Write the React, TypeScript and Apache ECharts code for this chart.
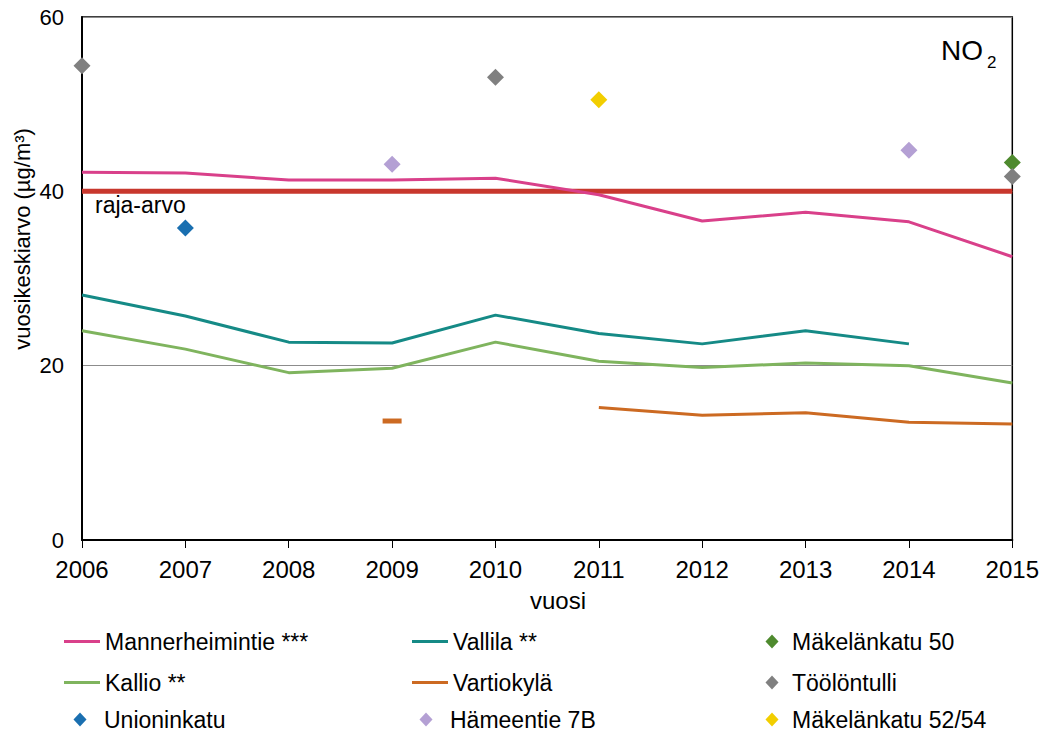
import React, { useEffect, useRef } from "react";
import * as echarts from "echarts";

const years = ["2006", "2007", "2008", "2009", "2010", "2011", "2012", "2013", "2014", "2015"];
const yTicks = [0, 20, 40, 60];

const limitValue = [40, 40, 40, 40, 40, 40, 40, 40, 40, 40];
const mannerheimintie = [42.2, 42.1, 41.3, 41.3, 41.5, 39.6, 36.6, 37.6, 36.5, 32.5];
const vallila = [28.1, 25.7, 22.7, 22.6, 25.8, 23.7, 22.5, 24.0, 22.5, null];
const kallio = [24.0, 21.9, 19.2, 19.7, 22.7, 20.5, 19.8, 20.3, 20.0, 18.0];
const vartiokyla = [null, null, null, 13.65, null, 15.2, 14.3, 14.6, 13.5, 13.3];

const makelankatu50 = [null, null, null, null, null, null, null, null, null, 43.3];
const toolontulli = [54.4, null, null, null, 53.1, null, null, null, null, 41.7];
const unioninkatu = [null, 35.8, null, null, null, null, null, null, null, null];
const hameentie = [null, null, null, 43.1, null, null, null, null, 44.7, null];
const makelankatu5254 = [null, null, null, null, null, 50.5, null, null, null, null];

const FONT = "'Liberation Sans', Arial, sans-serif";

const C = {
  limit: "#C8372D",
  mann: "#D9408A",
  vallila: "#158A86",
  kallio: "#7FB45E",
  vartio: "#CC6A22",
  mak50: "#4E8A2E",
  toolo: "#808080",
  union: "#1A6FB0",
  hame: "#B4A0D4",
  mak5254: "#F2CE00",
};

export default function App() {
  const ref = useRef<HTMLDivElement>(null);

  useEffect(() => {
    document.body.style.margin = "0";
    const chart = echarts.init(ref.current!, null, { renderer: "svg" });

    const lineSeries = (name: string, data: any[], color: string, width = 3) => ({
      name,
      type: "line",
      data,
      symbol: "none",
      showSymbol: true,
      showAllSymbol: true,
      connectNulls: false,
      lineStyle: { color, width },
      itemStyle: { color },
      z: 3,
    });

    const scatterSeries = (name: string, data: (number | null)[], color: string) => ({
      name,
      type: "scatter",
      data,
      symbol: "diamond",
      symbolSize: 17,
      itemStyle: { color, opacity: 1 },
      z: 5,
    });

    const LEG_FS = 23;
    const lineLegend = (name: string, left: number, top: number) => ({
      data: [name],
      left,
      top,
      padding: 0,
      selectedMode: false,
      itemWidth: 36,
      itemHeight: 3,
      icon: "rect",
      textStyle: { fontFamily: FONT, fontSize: LEG_FS, color: "#000" },
    });
    const diamondLegend = (name: string, center: number, textX: number, top: number) => ({
      data: [name],
      left: center - 6.5,
      top,
      padding: 0,
      selectedMode: false,
      itemWidth: 13,
      itemHeight: 14,
      icon: "diamond",
      textStyle: {
        fontFamily: FONT,
        fontSize: LEG_FS,
        color: "#000",
        padding: [0, 0, 0, textX - (center - 6.5 + 18)],
      },
    });

    const rows = [630, 671, 708];

    const option = {
      animation: false,
      backgroundColor: "#fff",
      textStyle: { fontFamily: FONT },
      grid: {
        left: 82,
        right: 28,
        top: 17,
        bottom: 195,
        show: true,
        borderColor: "#000",
        borderWidth: 1.5,
        backgroundColor: "transparent",
      },
      xAxis: {
        type: "category",
        data: years,
        boundaryGap: false,
        axisLine: { show: true, lineStyle: { color: "#000", width: 2 } },
        axisTick: { show: true, length: 8, lineStyle: { color: "#000", width: 1 } },
        axisLabel: { fontFamily: FONT, fontSize: 24, color: "#000", margin: 17 },
        splitLine: { show: false },
      },
      yAxis: {
        type: "value",
        min: yTicks[0],
        max: yTicks[yTicks.length - 1],
        interval: 20,
        axisLine: { show: true, lineStyle: { color: "#000", width: 2 } },
        axisTick: { show: false },
        axisLabel: { fontFamily: FONT, fontSize: 22, color: "#000", margin: 18 },
        splitLine: { show: true, lineStyle: { color: "#8c8c8c", width: 1 } },
      },
      legend: [
        lineLegend("Mannerheimintie ***", 64, rows[0]),
        lineLegend("Vallila **", 412, rows[0]),
        diamondLegend("Mäkelänkatu 50", 772, 792, rows[0]),
        lineLegend("Kallio **", 64, rows[1]),
        lineLegend("Vartiokylä", 412, rows[1]),
        diamondLegend("Töölöntulli", 772, 792, rows[1]),
        diamondLegend("Unioninkatu", 80, 104, rows[2]),
        diamondLegend("Hämeentie 7B", 426, 450, rows[2]),
        diamondLegend("Mäkelänkatu 52/54", 772, 792, rows[2]),
      ],
      series: [
        {
          name: "raja-arvo",
          type: "line",
          data: limitValue,
          symbol: "none",
          lineStyle: { color: C.limit, width: 5 },
          itemStyle: { color: C.limit },
          z: 2,
        },
        lineSeries("Mannerheimintie ***", mannerheimintie, C.mann),
        lineSeries("Vallila **", vallila, C.vallila),
        lineSeries("Kallio **", kallio, C.kallio),
        lineSeries(
          "Vartiokylä",
          vartiokyla.map((v, i) =>
            i === 3 ? { value: v, symbol: "rect", symbolSize: [19, 5] } : v
          ),
          C.vartio
        ),
        scatterSeries("Mäkelänkatu 50", makelankatu50, C.mak50),
        scatterSeries("Töölöntulli", toolontulli, C.toolo),
        scatterSeries("Unioninkatu", unioninkatu, C.union),
        scatterSeries("Hämeentie 7B", hameentie, C.hame),
        scatterSeries("Mäkelänkatu 52/54", makelankatu5254, C.mak5254),
      ],
      graphic: [
        {
          type: "text",
          x: 95,
          y: 205,
          z: 10,
          style: { text: "raja-arvo", fontFamily: FONT, fontSize: 23, fill: "#000", align: "left", verticalAlign: "middle" },
        },
        {
          type: "text",
          x: 941,
          y: 50,
          z: 10,
          style: { text: "NO", fontFamily: FONT, fontSize: 28, fill: "#000", align: "left", verticalAlign: "middle" },
        },
        {
          type: "text",
          x: 987,
          y: 62,
          z: 10,
          style: { text: "2", fontFamily: FONT, fontSize: 17, fill: "#000", align: "left", verticalAlign: "middle" },
        },
        {
          type: "text",
          x: 22,
          y: 239,
          rotation: Math.PI / 2,
          z: 10,
          style: { text: "vuosikeskiarvo (µg/m³)", fontFamily: FONT, fontSize: 22, fill: "#000", align: "center", verticalAlign: "middle" },
        },
        {
          type: "text",
          x: 558,
          y: 600,
          z: 10,
          style: { text: "vuosi", fontFamily: FONT, fontSize: 24, fill: "#000", align: "center", verticalAlign: "middle" },
        },
      ],
    };

    chart.setOption(option as any);
    return () => chart.dispose();
  }, []);

  return <div ref={ref} style={{ width: 1042, height: 735 }} />;
}
